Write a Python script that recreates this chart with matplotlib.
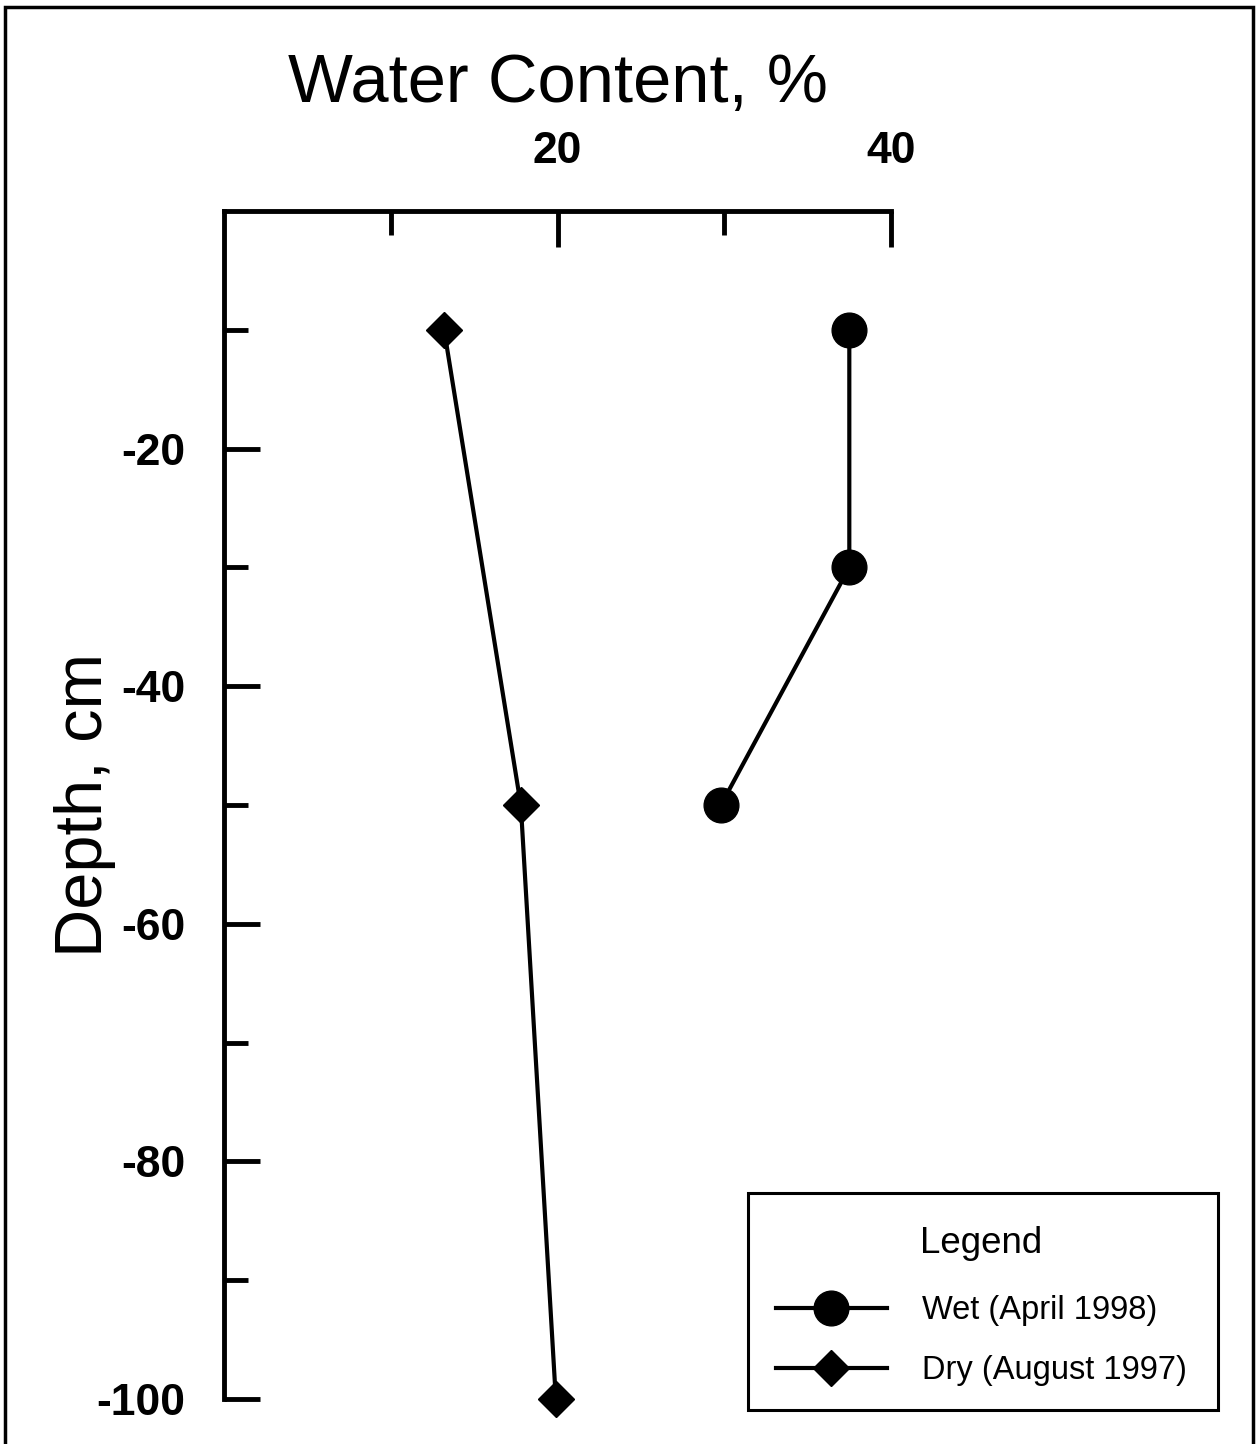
import matplotlib
matplotlib.use("Agg")
import matplotlib.pyplot as plt
from matplotlib.patches import Rectangle

# water content (%) vs depth (cm)
wet_water = [37.5, 37.5, 29.8]
wet_depth = [-10, -30, -50]
dry_water = [13.2, 17.8, 19.9]
dry_depth = [-10, -50, -100]

x_major = [20, 40]
x_minor = [10, 30]
y_major = [-20, -40, -60, -80, -100]
y_minor = [-10, -30, -50, -70, -90]

plt.rcParams['font.family'] = ['Liberation Sans', 'DejaVu Sans']
plt.rcParams['axes.unicode_minus'] = False

W, H = 1257, 1444
fig = plt.figure(figsize=(W / 100, H / 100), dpi=100)
ax = fig.add_axes([224 / W, 1 - 1399 / H, (891 - 224) / W, (1399 - 211) / H])

ax.plot(wet_water, wet_depth, color='black', lw=3, marker='o', ms=25,
        label='Wet (April 1998)', clip_on=False, zorder=3)
ax.plot(dry_water, dry_depth, color='black', lw=3, marker='D', ms=18,
        label='Dry (August 1997)', clip_on=False, zorder=3)

ax.set_xlim(0, 40)
ax.set_ylim(-100, 0)

for side in ['right', 'bottom']:
    ax.spines[side].set_visible(False)
for side in ['left', 'top']:
    ax.spines[side].set_linewidth(3.5)

ax.xaxis.tick_top()
ax.xaxis.set_label_position('top')
ax.set_xticks(x_major)
ax.set_xticks(x_minor, minor=True)
ax.set_yticks(y_major)
ax.set_yticks(y_minor, minor=True)

ax.tick_params(axis='both', which='major', direction='in', length=26, width=3.5,
               labelsize=32)
ax.tick_params(axis='both', which='minor', direction='in', length=17, width=3.5)
ax.tick_params(axis='x', which='major', pad=28)
ax.tick_params(axis='y', which='major', pad=28)
for lbl in ax.get_xticklabels() + ax.get_yticklabels():
    lbl.set_fontweight('bold')

ax.set_xlabel('Water Content, %', fontsize=49.5, labelpad=21)
ax.set_ylabel('Depth, cm', fontsize=48, labelpad=-14)

leg = ax.legend(loc='lower left', bbox_to_anchor=(748 / W, 1 - 1414 / H),
                bbox_transform=fig.transFigure, borderaxespad=0,
                title='Legend', title_fontsize=26.5, fontsize=23.5,
                frameon=False,
                handlelength=3.4, handletextpad=1.07, borderpad=0.85,
                labelspacing=0.89, alignment='center')
# gap between the legend title and the entries
leg._legend_box.sep = 0.89 * 23.5 + 3.6

# legend frame
fig.patches.append(Rectangle((748 / W, 1 - 1410 / H), (1218 - 748) / W, (1410 - 1193) / H,
                             transform=fig.transFigure, fill=False,
                             edgecolor='black', lw=2.2))

# outer frame around the whole picture
fig.patches.append(Rectangle((5 / W, -0.01), (1253 - 5) / W, 1 - 7 / H + 0.01,
                             transform=fig.transFigure, fill=False,
                             edgecolor='black', lw=2.5))

fig.savefig('out.png', dpi=100)
